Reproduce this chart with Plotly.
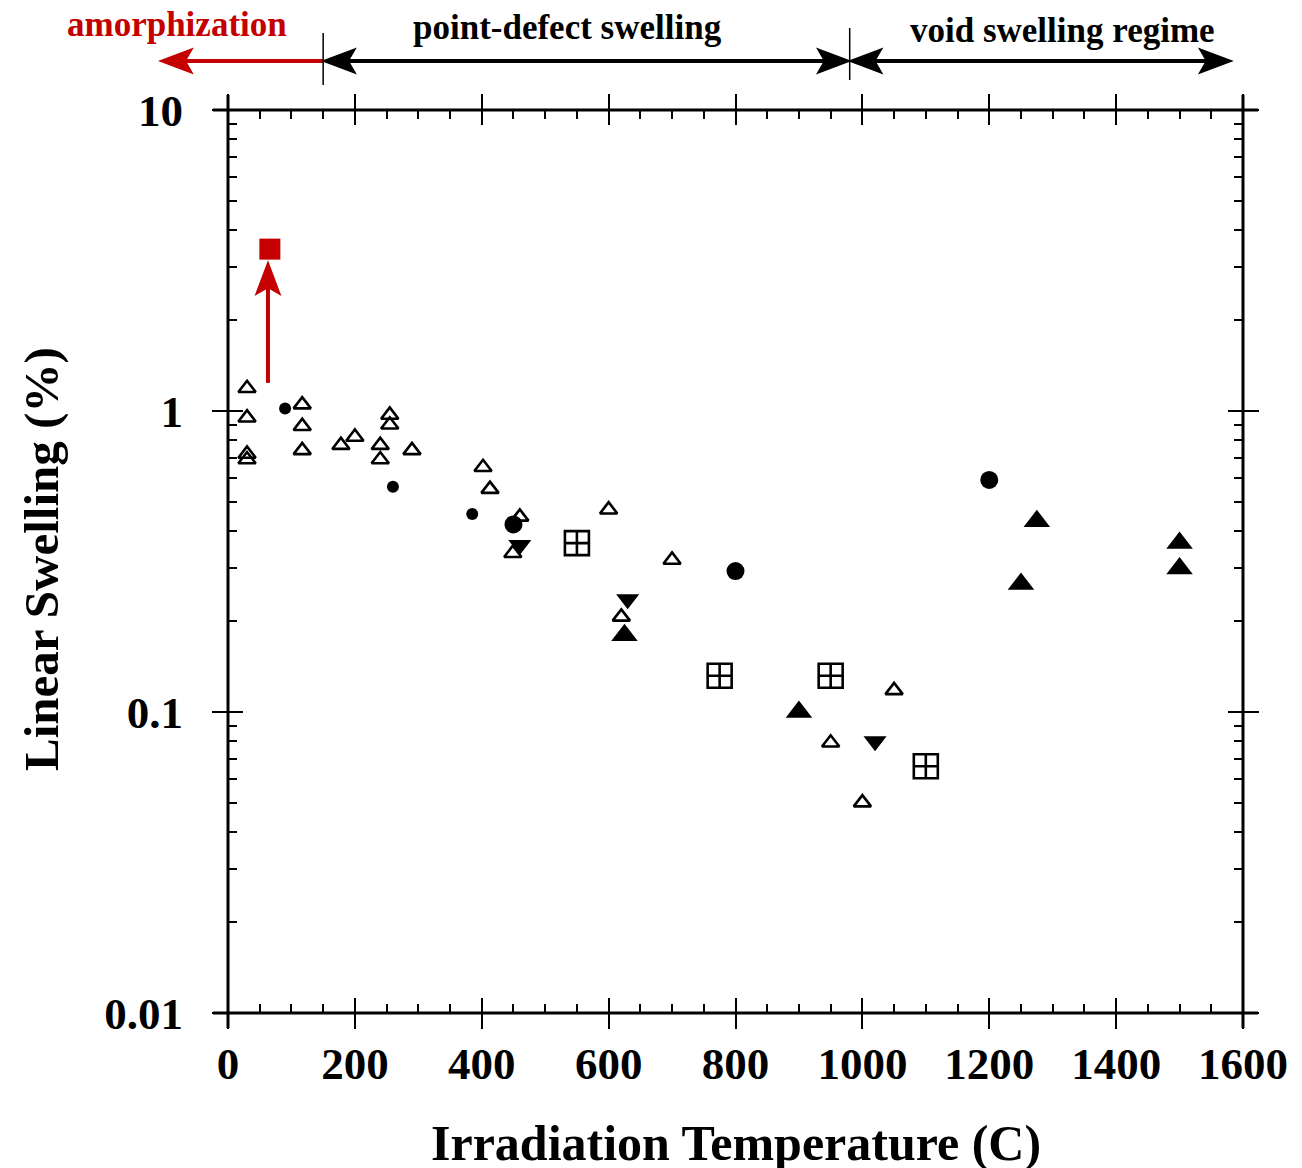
import plotly.graph_objects as go
import math

# ---------------- data ----------------
open_tri_T = [30, 30, 30, 30, 117, 117, 117, 178, 200, 240, 240, 255, 255, 290,
              402, 413, 460, 449, 600, 700, 620, 1050, 950, 1000]
open_tri_S = [1.19, 0.95, 0.72, 0.69, 1.05, 0.89, 0.74, 0.77, 0.82, 0.77, 0.69, 0.97, 0.90, 0.74,
              0.65, 0.55, 0.445, 0.337, 0.47, 0.32, 0.207, 0.118, 0.079, 0.050]

small_circ_T = [90, 260, 385]
small_circ_S = [1.02, 0.56, 0.455]

big_circ_T = [450, 800, 1200]
big_circ_S = [0.42, 0.294, 0.59]

down_tri_T = [460, 630, 1020]
down_tri_S = [0.359, 0.237, 0.080]

up_tri_T = [625, 900, 1250, 1275, 1500, 1500]
up_tri_S = [0.18, 0.10, 0.266, 0.43, 0.364, 0.30]

sqx_T = [550, 775, 950, 1100]
sqx_S = [0.364, 0.132, 0.132, 0.066]

amorph_T = [66]
amorph_S = [3.45]
amorph_arrow_T = 63
amorph_arrow_S = [1.24, 3.12]   # tail, tip

regime_labels = ["amorphization", "point-defect swelling", "void swelling regime"]
regime_bounds = [-107, 150, 980, 1582]

x_ticks = [0, 200, 400, 600, 800, 1000, 1200, 1400, 1600]
y_ticks = [0.01, 0.1, 1, 10]
y_ticktext = ["0.01", "0.1", "1", "10"]

X_RANGE = [0, 1600]
Y_RANGE_LOG = [-2, 1]

RED = "#c40000"
FONT = "Liberation Serif"

# plot-area size in pixels (for converting arrowhead sizes)
PW, PH = 1015, 903

def px_(T):
    return (T - X_RANGE[0]) / (X_RANGE[1] - X_RANGE[0])

def py_(S):
    return (math.log10(S) - Y_RANGE_LOG[0]) / (Y_RANGE_LOG[1] - Y_RANGE_LOG[0])

fig = go.Figure()

def add(T, S, symbol, size, color="black", lw=0):
    fig.add_trace(go.Scatter(
        x=T, y=S, mode="markers", showlegend=False,
        marker=dict(symbol=symbol, size=size, color=color,
                    line=dict(color=color, width=lw)),
        cliponaxis=False))

add(open_tri_T, open_tri_S, "triangle-up-open", 15, lw=2.6)
add(small_circ_T, small_circ_S, "circle", 12)
add(big_circ_T, big_circ_S, "circle", 18)
add(down_tri_T, down_tri_S, "triangle-down", 20)
add(up_tri_T, up_tri_S, "triangle-up", 23)
add(sqx_T, sqx_S, "square-cross-open", 24, lw=2.6)
add(amorph_T, amorph_S, "square", 21, color=RED)

# invisible trace for overlay axes (inner halves of major ticks)
fig.add_trace(go.Scatter(x=[None], y=[None], xaxis="x2", yaxis="y2",
                         showlegend=False, hoverinfo="skip"))

shapes = []
HL, HW, HN = 32, 12, 25   # head length, half-width, notch distance (px)

def head(xt, yt, direction, color):
    # direction: 'left', 'right', 'up'
    if direction in ("left", "right"):
        s = 1 if direction == "left" else -1
        pts = [(xt, yt), (xt + s * HL / PW, yt + HW / PH), (xt + s * HN / PW, yt),
               (xt + s * HL / PW, yt - HW / PH)]
    else:
        pts = [(xt, yt), (xt + HW / PW, yt - HL / PH), (xt, yt - HN / PH),
               (xt - HW / PW, yt - HL / PH)]
    path = "M " + " L ".join(f"{a:.5f},{b:.5f}" for a, b in pts) + " Z"
    shapes.append(dict(type="path", xref="paper", yref="paper", path=path,
                       fillcolor=color, line=dict(color=color, width=1.5)))

def hline(x0, x1, y, color, w=4):
    shapes.append(dict(type="line", xref="paper", yref="paper", x0=x0, x1=x1, y0=y, y1=y,
                       line=dict(color=color, width=w)))

ARROW_Y = 1.0543
b = [px_(v) for v in regime_bounds]
off = HN / PW
# red arrow (amorphization)
hline(b[0] + off, b[1], ARROW_Y, RED)
head(b[0], ARROW_Y, "left", RED)
# black double arrows
for a0, a1 in [(b[1], b[2]), (b[2], b[3])]:
    hline(a0 + off, a1 - off, ARROW_Y, "black")
    head(a0, ARROW_Y, "left", "black")
    head(a1, ARROW_Y, "right", "black")
# separators
for xv, y1 in [(b[1], 1.0853), (b[2], 1.0908)]:
    shapes.append(dict(type="line", xref="paper", yref="paper", x0=xv, x1=xv,
                       y0=y1 - 52 / PH, y1=y1, line=dict(color="black", width=1.5)))
# red vertical arrow
ax_ = px_(amorph_arrow_T)
ytail, ytip = py_(amorph_arrow_S[0]), py_(amorph_arrow_S[1])
shapes.append(dict(type="line", xref="paper", yref="paper", x0=ax_, x1=ax_,
                   y0=ytail, y1=ytip - HN / PH, line=dict(color=RED, width=4)))
head(ax_, ytip, "up", RED)

# frame lines (extended past the corners)
ex = 15 / PW
ey = 15 / PH
for yv in [0, 1]:
    shapes.append(dict(type="line", xref="paper", yref="paper", x0=-ex, x1=1 + ex, y0=yv, y1=yv,
                       line=dict(color="black", width=3)))
for xv in [0, 1]:
    shapes.append(dict(type="line", xref="paper", yref="paper", x0=xv, x1=xv, y0=-ey, y1=1 + ey,
                       line=dict(color="black", width=3)))

annotations = []
label_pos = [(-80, 1.0950, RED), (535, 1.0919, "black"), (1315, 1.0875, "black")]
for txt, (xv, yv, col) in zip(regime_labels, label_pos):
    annotations.append(dict(x=px_(xv), y=yv, xref="paper", yref="paper", text=txt,
                            showarrow=False, xanchor="center", yanchor="middle",
                            font=dict(family=FONT, size=35, color=col, weight="bold")))
annotations.append(dict(x=0.5, y=-0.144, xref="paper", yref="paper",
                        text="Irradiation Temperature (C)", showarrow=False,
                        xanchor="center", yanchor="middle",
                        font=dict(family=FONT, size=50, color="black", weight="bold")))
annotations.append(dict(x=-0.183, y=0.503, xref="paper", yref="paper",
                        text="Linear Swelling (%)", showarrow=False, textangle=-90,
                        xanchor="center", yanchor="middle",
                        font=dict(family=FONT, size=49, color="black", weight="bold")))

tickfont = dict(family=FONT, size=45, color="black", weight="bold")

fig.update_layout(
    width=1294, height=1160,
    margin=dict(l=220, r=59, t=102, b=155),
    paper_bgcolor="white", plot_bgcolor="white",
    showlegend=False,
    annotations=annotations, shapes=shapes,
    xaxis=dict(range=X_RANGE, tickvals=x_ticks, ticks="outside", ticklen=15, tickwidth=2.2,
               tickcolor="black", mirror="ticks", showline=False, showgrid=False, zeroline=False,
               tickfont=tickfont, ticklabelstandoff=-4,
               minor=dict(dtick=50, ticks="inside", ticklen=9, tickwidth=2, tickcolor="black",
                          showgrid=False)),
    yaxis=dict(type="log", range=Y_RANGE_LOG, tickvals=y_ticks, ticktext=y_ticktext,
               ticks="outside", ticklen=15, tickwidth=2.2, tickcolor="black", mirror="ticks",
               showline=False, showgrid=False, zeroline=False, tickfont=tickfont,
               ticklabelstandoff=20,
               minor=dict(dtick="D1", ticks="inside", ticklen=9, tickwidth=2, tickcolor="black",
                          showgrid=False)),
    xaxis2=dict(overlaying="x", anchor="y2", range=X_RANGE, tickvals=x_ticks, ticks="inside",
                ticklen=15, tickwidth=2.2, tickcolor="black", mirror="ticks",
                showticklabels=False, showline=False, showgrid=False, zeroline=False),
    yaxis2=dict(overlaying="y", anchor="x2", type="log", range=Y_RANGE_LOG, tickvals=y_ticks,
                ticks="inside", ticklen=15, tickwidth=2.2, tickcolor="black", mirror="ticks",
                showticklabels=False, showline=False, showgrid=False, zeroline=False),
)

fig.write_html("out.html")
